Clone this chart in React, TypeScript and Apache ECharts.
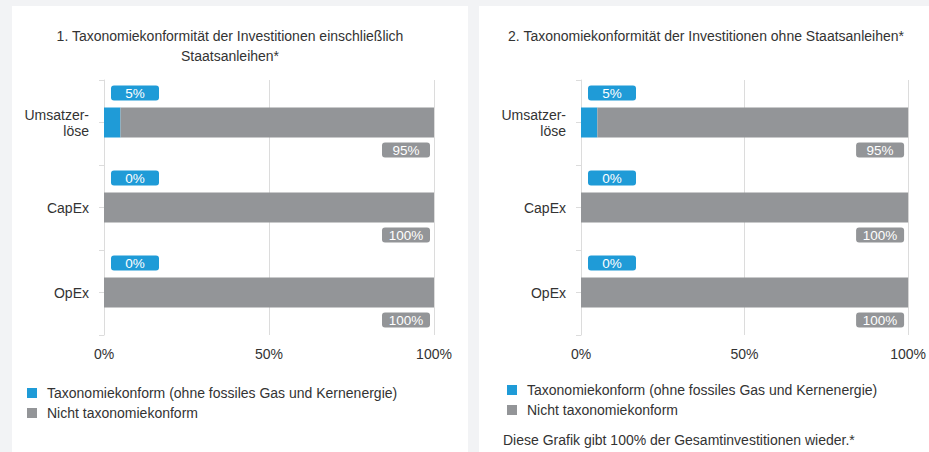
import React, { useEffect, useRef } from "react";
import * as echarts from "echarts";

const CATEGORIES = ["Umsatzer-\nlöse", "CapEx", "OpEx"];
const ALIGNED_WITH_BONDS = [5, 0, 0];
const NOT_ALIGNED_WITH_BONDS = [95, 100, 100];
const ALIGNED_WITHOUT_BONDS = [5, 0, 0];
const NOT_ALIGNED_WITHOUT_BONDS = [95, 100, 100];
const SERIES_NAMES = [
  "Taxonomiekonform (ohne fossiles Gas und Kernenergie)",
  "Nicht taxonomiekonform",
];
const TITLES = [
  "1. Taxonomiekonformität der Investitionen einschließlich\nStaatsanleihen*",
  "2. Taxonomiekonformität der Investitionen ohne Staatsanleihen*",
];
const FOOTNOTE = "Diese Grafik gibt 100% der Gesamtinvestitionen wieder.*";
const X_MIN = 0;
const X_MAX = 100;
const X_INTERVAL = 50;

const FONT = "Liberation Sans, Arial, sans-serif";
const FS = 14;
const BLUE = "#1f9bd7";
const GREY = "#939598";
const TEXT = "#333333";
const LINE = "#dcdcdc";

export default function App() {
  const ref = useRef<HTMLDivElement>(null);

  useEffect(() => {
    if (!ref.current) return;
    const chart = echarts.init(ref.current, undefined, { renderer: "svg" });

    const grids = [
      { left: 104, top: 80, width: 330, height: 255 },
      { left: 581, top: 80, width: 330, height: 255 },
    ];

    const xAxes = grids.map((_, i) => ({
      type: "value",
      gridIndex: i,
      min: X_MIN,
      max: X_MAX,
      interval: X_INTERVAL,
      axisLine: { show: false },
      axisTick: { show: false },
      splitLine: { show: true, lineStyle: { color: LINE, width: 1 } },
      axisLabel: {
        formatter: "{value}%",
        color: TEXT,
        fontSize: FS,
        fontFamily: FONT,
        margin: 12,
      },
    }));

    const yAxes: any[] = [];
    grids.forEach((_, i) => {
      yAxes.push({
        type: "category",
        gridIndex: i,
        data: CATEGORIES,
        inverse: true,
        position: "left",
        axisLine: { show: true, lineStyle: { color: LINE } },
        axisTick: { show: true, length: 5, alignWithLabel: false, lineStyle: { color: LINE } },
        axisLabel: {
          color: TEXT,
          fontSize: FS,
          fontFamily: FONT,
          lineHeight: 16,
          margin: 15,
          align: "right",
        },
      });
      yAxes.push({
        type: "category",
        gridIndex: i,
        data: CATEGORIES,
        inverse: true,
        position: "left",
        offset: 0,
        axisLine: { show: false },
        axisTick: { show: true, length: 5, alignWithLabel: true, lineStyle: { color: LINE } },
        axisLabel: { show: false },
        splitLine: { show: false },
      });
    });

    const rich = {
      t: {
        width: 48,
        align: "center",
        color: "#ffffff",
        fontSize: 13.5,
        fontFamily: FONT,
        lineHeight: 15,
      },
    };

    const makeSeries = (i: number, aligned: number[], notAligned: number[]) => [
      {
        name: SERIES_NAMES[0],
        type: "bar",
        stack: "s" + i,
        xAxisIndex: i,
        yAxisIndex: i * 2,
        barWidth: 30,
        data: aligned,
        itemStyle: { color: BLUE },
        label: {
          show: true,
          position: [7, -22],
          align: "left",
          verticalAlign: "top",
          formatter: (p: any) => `{t|${p.value}%}`,
          rich,
          backgroundColor: BLUE,
          borderRadius: 3,
          padding: [0, 0],
        },
      },
      {
        name: SERIES_NAMES[1],
        type: "bar",
        stack: "s" + i,
        xAxisIndex: i,
        yAxisIndex: i * 2,
        barWidth: 30,
        data: notAligned,
        itemStyle: { color: GREY },
        label: {
          show: true,
          position: ["100%", "100%"],
          offset: [-4, 5],
          align: "right",
          verticalAlign: "top",
          formatter: (p: any) => `{t|${p.value}%}`,
          rich,
          backgroundColor: GREY,
          borderRadius: 3,
          padding: [0, 0],
        },
      },
    ];

    const legendBase = {
      orient: "vertical",
      icon: "rect",
      itemWidth: 10,
      itemHeight: 10,
      itemGap: 6,
      data: SERIES_NAMES,
      textStyle: { color: TEXT, fontSize: FS, fontFamily: FONT, padding: [0, 0, 0, 5] },
      selectedMode: false,
    };

    chart.setOption({
      animation: false,
      backgroundColor: "#f2f3f5",
      grid: grids,
      xAxis: xAxes,
      yAxis: yAxes,
      legend: [
        { ...legendBase, left: 22, top: 381 },
        { ...legendBase, left: 502, top: 378 },
      ],
      graphic: [
        {
          type: "rect",
          z: -10,
          silent: true,
          shape: { x: 12, y: 6, width: 456, height: 446 },
          style: { fill: "#ffffff" },
        },
        {
          type: "rect",
          z: -10,
          silent: true,
          shape: { x: 479, y: 6, width: 450, height: 446 },
          style: { fill: "#ffffff" },
        },
        {
          type: "text",
          x: 230,
          y: 26,
          style: {
            text: TITLES[0],
            textAlign: "center",
            textVerticalAlign: "top",
            fontSize: FS,
            fontFamily: FONT,
            lineHeight: 20,
            fill: TEXT,
          },
        },
        {
          type: "text",
          x: 706,
          y: 26,
          style: {
            text: TITLES[1],
            textAlign: "center",
            textVerticalAlign: "top",
            fontSize: FS,
            fontFamily: FONT,
            lineHeight: 20,
            fill: TEXT,
          },
        },
        {
          type: "text",
          x: 503,
          y: 432,
          style: {
            text: FOOTNOTE,
            textAlign: "left",
            textVerticalAlign: "top",
            fontSize: FS,
            fontFamily: FONT,
            lineHeight: 16,
            fill: TEXT,
          },
        },
      ],
      series: [
        ...makeSeries(0, ALIGNED_WITH_BONDS, NOT_ALIGNED_WITH_BONDS),
        ...makeSeries(1, ALIGNED_WITHOUT_BONDS, NOT_ALIGNED_WITHOUT_BONDS),
      ],
    });

    return () => chart.dispose();
  }, []);

  return (
    <div
      ref={ref}
      style={{ position: "absolute", left: 0, top: 0, width: 929, height: 452 }}
    />
  );
}
